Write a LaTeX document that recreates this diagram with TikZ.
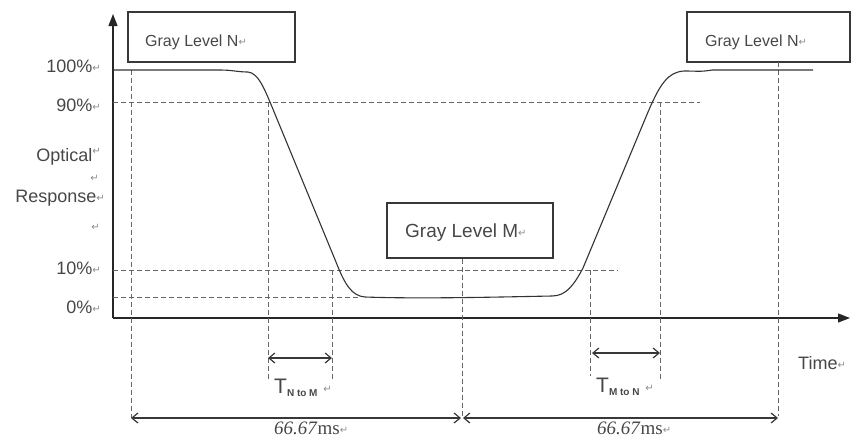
\documentclass[tikz,border=0pt]{standalone}
\usepackage{fontspec}
\setmainfont{Liberation Sans}
\newfontfamily\djv{DejaVu Sans}
\newfontfamily\tms{Liberation Serif}
\usetikzlibrary{arrows.meta}
\newcommand\retmark{{\djv\fontsize{10}{10}\selectfont\textcolor{black!45}{\raisebox{1pt}{↵}}}}
\begin{document}
\begin{tikzpicture}[x=1pt,y=-1pt,
  lbl/.style={font=\fontsize{18}{18}\selectfont, text=black!72, inner sep=0pt},
  boxlbl/.style={font=\fontsize{16}{16}\selectfont, text=black!72, inner sep=0pt},
  gbox/.style={draw=black!78, line width=1.1pt, inner sep=0pt},
  dsh/.style={draw=black!60, line width=0.6pt, dash pattern=on 5pt off 3pt},
  axisline/.style={draw=black!85, line width=1.3pt, -{Triangle[length=12pt,width=9pt]}},
  dimarrow/.style={draw=black!78, line width=1.2pt, {Straight Barb[length=6pt,width=10pt]}-{Straight Barb[length=6pt,width=10pt]}},
  curve/.style={draw=black!80, line width=1.1pt},
  tlbl/.style={inner sep=0pt, text=black!72},
  mslbl/.style={font=\tms\fontsize{19}{19}\selectfont, text=black!72, inner sep=0pt}]
\useasboundingbox (0,0) rectangle (851,437);

% axes
\coordinate (O) at (113,318);
\coordinate (Ytop) at (113,14);
\coordinate (Xend) at (850,318);
\draw[axisline] (O) -- (Ytop);
\draw[axisline] (O) -- (Xend);

% boxes
\node[gbox, minimum width=167pt, minimum height=50pt] (b1) at (211.5,37) {};
\node[boxlbl, anchor=west] (t1) at (145,42) {Gray Level N\retmark};
\node[gbox, minimum width=166pt, minimum height=55pt] (b2) at (470,230.5) {};
\node[boxlbl, font=\fontsize{19}{19}\selectfont, anchor=west] (t2) at (405,233) {Gray Level M\retmark};
\node[gbox, minimum width=163pt, minimum height=50pt] (b3) at (768.5,37) {};
\node[boxlbl, anchor=west] (t3) at (705,42) {Gray Level N\retmark};

% horizontal dashed levels
\coordinate (h90a) at (113,102); \coordinate (h90b) at (700,102);
\coordinate (h10a) at (113,270); \coordinate (h10b) at (618,270);
\coordinate (h0a) at (113,297);  \coordinate (h0b) at (358,297);
\draw[dsh] (h90a) -- (h90b);
\draw[dsh] (h10a) -- (h10b);
\draw[dsh] (h0a) -- (h0b);

% vertical dashed lines
\coordinate (v1a) at (131,70);  \coordinate (v1b) at (131,418);
\coordinate (v2a) at (268,102); \coordinate (v2b) at (268,380);
\coordinate (v3a) at (332,270); \coordinate (v3b) at (332,380);
\coordinate (v4b) at (462,418);
\coordinate (v5a) at (590,270); \coordinate (v5b) at (590,376);
\coordinate (v6a) at (660,102); \coordinate (v6b) at (660,380);
\coordinate (v7a) at (778,62);  \coordinate (v7b) at (778,416);
\draw[dsh] (v1a) -- (v1b);
\draw[dsh] (v2a) -- (v2b);
\draw[dsh] (v3a) -- (v3b);
\draw[dsh] (b2.south -| v4b) -- (v4b);
\draw[dsh] (v5a) -- (v5b);
\draw[dsh] (v6a) -- (v6b);
\draw[dsh] (v7a) -- (v7b);

% response curve
\draw[curve] (113,70) -- (220,70) .. controls (232,70) and (238,72) .. (248,72)
  .. controls (258,73) and (264,88) .. (270,102) -- (336,262)
  .. controls (345,285) and (352,296) .. (365,297)
  .. controls (420,299) and (500,297) .. (552,296)
  .. controls (566,296) and (574,285) .. (583,268) -- (648,112)
  .. controls (660,84) and (668,72) .. (684,71)
  .. controls (698,71) and (700,72) .. (712,70) -- (813,70);

% y labels
\node[lbl, anchor=east] (l100) at (101,66) {100\%\retmark};
\node[lbl, anchor=east] (l90) at (101,105) {90\%\retmark};
\node[lbl, anchor=east] (lopt) at (101,157) {Optical\raisebox{6pt}{\retmark}};
\node[lbl, anchor=east] (lr1) at (99,179) {\retmark};
\node[lbl, anchor=east] (lresp) at (105,198) {Response\retmark};
\node[lbl, anchor=east] (lr2) at (100,228) {\retmark};
\node[lbl, anchor=east] (l10) at (101,268) {10\%\retmark};
\node[lbl, anchor=east] (l0) at (101,307) {0\%\retmark};
\node[lbl, anchor=west] (ltime) at (798,363) {Time\retmark};

% transition time arrows
\coordinate (tn1) at (268,358); \coordinate (tn2) at (332,358);
\coordinate (tm1) at (592,353); \coordinate (tm2) at (660,353);
\draw[dimarrow] (tn1) -- (tn2);
\draw[dimarrow] (tm1) -- (tm2);
\node[tlbl, anchor=west] (ltn) at (274,388) {\fontsize{21}{21}\selectfont T\raisebox{-3pt}{\fontsize{10}{10}\selectfont\bfseries N to M}\ \retmark};
\node[tlbl, anchor=west] (ltm) at (596,387) {\fontsize{21}{21}\selectfont T\raisebox{-3pt}{\fontsize{10}{10}\selectfont\bfseries M to N}\ \retmark};

% 66.67 ms arrows
\coordinate (p1) at (131,418); \coordinate (p2) at (461,418);
\coordinate (p3) at (463,418); \coordinate (p4) at (778,418);
\draw[dimarrow] (p1) -- (p2);
\draw[dimarrow] (p3) -- (p4);
\node[mslbl, anchor=west] (ms1) at (274,428) {\textit{66.67}ms\retmark};
\node[mslbl, anchor=west] (ms2) at (597,428) {\textit{66.67}ms\retmark};
\end{tikzpicture}
\end{document}
